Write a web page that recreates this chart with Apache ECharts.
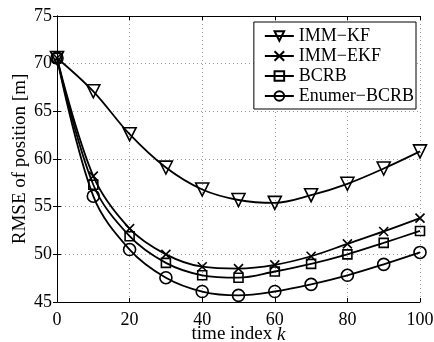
<!DOCTYPE html>
<html>
<head>
<meta charset="utf-8">
<script src="https://cdn.jsdelivr.net/npm/echarts@6/dist/echarts.min.js"></script>
<style>
  html, body { margin: 0; padding: 0; background: #fff; }
  #chart { width: 434px; height: 342px; }
</style>
</head>
<body>
<div id="chart"></div>
<script>
const timeIndex = [0, 10, 20, 30, 40, 50, 60, 70, 80, 90, 100];
const immKF = [70.6, 67.1, 62.6, 59.1, 56.8, 55.7, 55.4, 56.2, 57.4, 59.0, 60.8];
const immEKF = [70.6, 58.2, 52.7, 50.0, 48.7, 48.5, 48.9, 49.8, 51.1, 52.4, 53.8];
const bcrb = [70.6, 57.3, 51.9, 49.1, 47.8, 47.55, 48.2, 49.0, 50.0, 51.2, 52.45];
const enumerBCRB = [70.6, 56.1, 50.5, 47.55, 46.1, 45.7, 46.1, 46.85, 47.8, 48.95, 50.2];

const font = 'Liberation Serif';
const chart = echarts.init(document.getElementById('chart'), null, { renderer: 'canvas' });

function pairs(vals) {
  return timeIndex.map((t, i) => [t, vals[i]]);
}

function makeSeries(name, vals, symbol, size) {
  return {
    name: name,
    type: 'line',
    data: pairs(vals),
    smooth: 0.35,
    symbol: symbol,
    symbolSize: size,
    showAllSymbol: true,
    lineStyle: { color: '#000', width: 1.8 },
    itemStyle: { color: 'rgba(255,255,255,0)', borderColor: '#000', borderWidth: 1.6 },
    emphasis: { disabled: true },
    animation: false
  };
}

const frameAxisX = {
  type: 'value', min: 0, max: 100, interval: 20,
  axisLine: { show: true, lineStyle: { color: '#000', width: 1 } },
  axisTick: { show: true, inside: true, length: 4, lineStyle: { color: '#000' } },
  axisLabel: { show: false },
  splitLine: { show: false }
};
const frameAxisY = {
  type: 'value', min: 45, max: 75, interval: 5,
  axisLine: { show: true, lineStyle: { color: '#000', width: 1 } },
  axisTick: { show: true, inside: true, length: 4, lineStyle: { color: '#000' } },
  axisLabel: { show: false },
  splitLine: { show: false }
};

const option = {
  backgroundColor: '#fff',
  animation: false,
  grid: { left: 57, right: 14, top: 16, bottom: 40, containLabel: false, outerBoundsMode: 'none' },
  legend: {
    orient: 'vertical',
    right: 18,
    top: 22,
    backgroundColor: '#fff',
    borderColor: '#000',
    borderWidth: 1,
    borderRadius: 0,
    padding: [5, 2, 4, 10],
    itemWidth: 29,
    itemHeight: 12,
    itemGap: 2,
    textStyle: { fontFamily: font, fontSize: 18, color: '#000' },
    data: ['IMM−KF', 'IMM−EKF', 'BCRB', 'Enumer−BCRB']
  },
  xAxis: [
    {
      type: 'value', min: 0, max: 100, interval: 20,
      name: '{a|time index }{b|k}',
      nameLocation: 'middle',
      nameGap: 23,
      nameMoveOverlap: false,
      nameTextStyle: {
        rich: {
          a: { fontFamily: font, fontSize: 19, color: '#000' },
          b: { fontFamily: font, fontSize: 19, color: '#000', fontStyle: 'italic' }
        }
      },
      axisLine: { show: true, onZero: false, lineStyle: { color: '#000', width: 1 } },
      axisTick: { show: true, inside: true, length: 4, lineStyle: { color: '#000' } },
      axisLabel: { fontFamily: font, fontSize: 18, color: '#000', margin: 9 },
      splitLine: { show: true, lineStyle: { color: '#999', type: [1, 3], width: 1 } }
    },
    Object.assign({ position: 'top' }, frameAxisX)
  ],
  yAxis: [
    {
      type: 'value', min: 45, max: 75, interval: 5,
      name: 'RMSE of position [m]',
      nameLocation: 'middle',
      nameGap: 27,
      nameMoveOverlap: false,
      nameTextStyle: { fontFamily: font, fontSize: 19, color: '#000' },
      axisLine: { show: true, onZero: false, lineStyle: { color: '#000', width: 1 } },
      axisTick: { show: true, inside: true, length: 4, lineStyle: { color: '#000' } },
      axisLabel: { fontFamily: font, fontSize: 18, color: '#000', margin: 5 },
      splitLine: { show: true, lineStyle: { color: '#999', type: [1, 3], width: 1 } }
    },
    Object.assign({ position: 'right' }, frameAxisY)
  ],
  series: [
    makeSeries('IMM−KF', immKF, 'path://M0,0L12,0L6,10Z', 13),
    makeSeries('IMM−EKF', immEKF, 'path://M0,0L10,10M10,0L0,10', 9),
    makeSeries('BCRB', bcrb, 'rect', 9),
    makeSeries('Enumer−BCRB', enumerBCRB, 'circle', 12)
  ]
};

chart.setOption(option);
</script>
</body>
</html>
